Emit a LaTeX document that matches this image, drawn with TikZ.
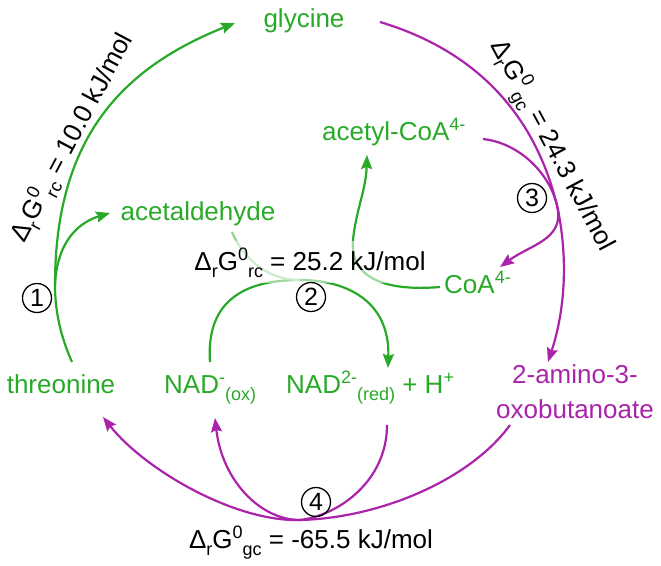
\documentclass[tikz,border=0pt]{standalone}
\usepackage{fontspec}
\setmainfont{Liberation Sans}
\usetikzlibrary{arrows.meta}
\definecolor{rgreen}{RGB}{40,170,40}
\definecolor{rmag}{RGB}{170,35,170}
\newcommand\sps[1]{\raisebox{10pt}{\fontsize{18}{18}\selectfont #1}}
\newcommand\sbs[1]{\raisebox{-7pt}{\fontsize{18}{18}\selectfont #1}}
\begin{document}
\begin{tikzpicture}[x=1pt,y=-1pt,
  lbl/.style={font=\fontsize{26}{35}\selectfont, inner sep=1pt},
  grn/.style={lbl, text=rgreen},
  mag/.style={lbl, text=rmag},
  gline/.style={draw=rgreen, line width=2.2pt},
  fline/.style={draw=rgreen!50!white, line width=2.2pt},
  mline/.style={draw=rmag, line width=2.2pt},
  tip/.style={-{Stealth[length=14pt,width=11pt,inset=2pt]}},
  num/.style={circle, draw, line width=1.3pt, minimum size=29pt, inner sep=0pt, font=\fontsize{25}{25}\selectfont}
]
\useasboundingbox (0,0) rectangle (661,565);

% species
\node[grn, anchor=base] (glycine) at (304,27) {glycine};
\node[grn, anchor=base] (acetaldehyde) at (198,220) {acetaldehyde};
\node[grn, anchor=base] (threonine) at (61,393) {threonine};
\node[grn, anchor=base west] (naox) at (163,393) {NAD\sps{-}\sbs{(ox)}};
\node[grn, anchor=base west] (nared) at (285,393) {NAD\sps{2-}\sbs{(red)} + H\sps{+}};
\node[mag, align=center, anchor=center] (amino) at (575,392) {2-amino-3-\\oxobutanoate};
\node[grn, anchor=base west] (acetylcoa) at (321,140) {acetyl-CoA\sps{4-}};
\node[grn, anchor=base west] (coa) at (443,293) {CoA\sps{4-}};

% reaction 1
\coordinate (r1) at (55,285);
\coordinate (thrTop) at (72,362);
\coordinate (glyTip) at (235,23);
\coordinate (aldTip) at (110,213);
\draw[gline] (thrTop) .. controls (60,335) and (55,310) .. (r1);
\draw[gline,tip] (r1) .. controls (55,135) and (125,67) .. (glyTip);
\draw[gline,tip] (r1) .. controls (57,240) and (80,222) .. (aldTip);

% reaction 2
\coordinate (r2) at (300,280);
\coordinate (naoxTop) at (210,362);
\coordinate (naredTip) at (388,368);
\coordinate (aldEnd) at (232,232);
\coordinate (coaEnd) at (440,287);
\coordinate (coaMid) at (353,240);
\coordinate (acoTip) at (367,155);
\draw[gline] (naoxTop) .. controls (205,290) and (260,280) .. (r2);
\draw[gline,tip] (r2) .. controls (345,280) and (390,300) .. (naredTip);
\draw[fline] (aldEnd) .. controls (245,262) and (270,280) .. (r2);
\draw[gline,tip] (coaEnd) .. controls (380,292) and (350,275) .. (coaMid) .. controls (356,210) and (366,190) .. (acoTip);

% reaction 3
\coordinate (glyEnd) at (380,22);
\coordinate (r3) at (558,210);
\coordinate (amTip) at (548,362);
\coordinate (acoEnd) at (483,139);
\coordinate (coaTip) at (500,267);
\draw[mline] (glyEnd) .. controls (490,55) and (540,130) .. (r3);
\draw[mline,tip] (r3) .. controls (568,260) and (565,310) .. (amTip);
\draw[mline] (acoEnd) .. controls (520,143) and (552,175) .. (r3);
\draw[mline,tip] (r3) .. controls (562,240) and (530,245) .. (coaTip);

% reaction 4
\coordinate (r4) at (300,520);
\coordinate (amEnd) at (510,425);
\coordinate (naredEnd) at (387,425);
\coordinate (naoxTip) at (215,418);
\coordinate (thrTip) at (103,417);
\draw[mline] (amEnd) .. controls (470,480) and (380,518) .. (r4);
\draw[mline] (naredEnd) .. controls (387,480) and (340,515) .. (r4);
\draw[mline,tip] (r4) .. controls (260,520) and (222,480) .. (naoxTip);
\draw[mline,tip] (r4) .. controls (235,522) and (145,470) .. (thrTip);

% energies
\node[lbl, anchor=base, fill=white, fill opacity=0.55, text opacity=1, inner ysep=6pt] (dg2) at (310,270) {Δ\sbs{r}G\sps{0}\sbs{rc} = 25.2 kJ/mol};
\node[lbl, anchor=base] (dg4) at (311,548) {Δ\sbs{r}G\sps{0}\sbs{gc} = -65.5 kJ/mol};
\node[lbl, anchor=base, rotate=62] (dg1) at (79,141) {Δ\sbs{r}G\sps{0}\sbs{rc} = 10.0 kJ/mol};
\node[lbl, anchor=base, rotate=-62] (dg3) at (546,149) {Δ\sbs{r}G\sps{0}\sbs{gc} = 24.3 kJ/mol};

% reaction numbers
\node[num] (c1) at (37,298) {1};
\node[num] (c2) at (311,297) {2};
\node[num] (c3) at (532,198) {3};
\node[num] (c4) at (316,502) {4};
\end{tikzpicture}
\end{document}
